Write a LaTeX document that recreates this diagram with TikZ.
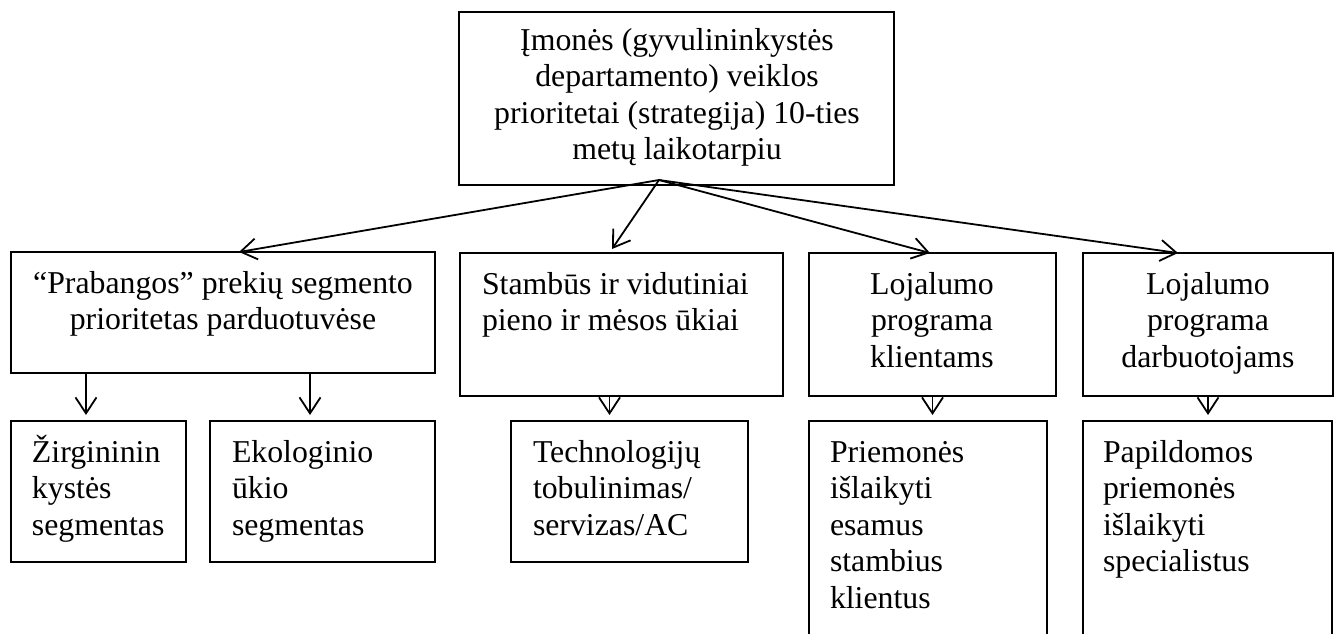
\documentclass[tikz,border=0pt]{standalone}
\usepackage{fontspec}
\setmainfont{Liberation Serif}
\usetikzlibrary{arrows.meta,calc}

\begin{document}
\begin{tikzpicture}[x=0.5pt,y=-0.5pt,
  box/.style={draw,line width=0.9pt,rectangle,inner sep=0pt,outer sep=0pt},
  sz/.style 2 args={minimum width=#1*0.5pt,minimum height=#2*0.5pt},
  txt/.style={inner sep=0pt,outer sep=0pt,font=\fontsize{15.9}{18.3}\selectfont},
  txtl/.style={txt,align=left,anchor=north west},
  txtc/.style={txt,align=center,anchor=north},
  link/.style={line width=0.9pt,-{Straight Barb[length=8pt,width=10.5pt]}}]
\useasboundingbox (0,0) rectangle (1339,633);
\clip (0,0) rectangle (1339,633);
\newcommand{\fl}{\rule{0pt}{15pt}}

% boxes: centre, width, height in pixels (1px = 0.5pt)
\node[box,sz={435}{173}] (top) at (676.5,98.5) {};
\node[box,sz={424}{121}] (lux) at (223,312.5) {};
\node[box,sz={323}{143}] (farm) at (621.5,324.5) {};
\node[box,sz={247}{143}] (cli) at (932.5,324.5) {};
\node[box,sz={250}{143}] (emp) at (1208,324.5) {};
\node[box,sz={175}{141}] (horse) at (98.5,491.5) {};
\node[box,sz={225}{141}] (eco) at (322.5,491.5) {};
\node[box,sz={237}{141}] (tech) at (629.5,491.5) {};
\node[box,sz={238}{279}] (keep) at (928,560.5) {};
\node[box,sz={249}{279}] (staff) at (1207.5,560.5) {};

% texts
\node[txtc] (ttop) at ($(top.north)+(0.5,8)$) {\fl Įmonės (gyvulininkystės\\departamento) veiklos\\prioritetai (strategija) 10-ties\\metų laikotarpiu};
\node[txtc] (tlux) at ($(lux.north)+(0,11)$) {\fl “Prabangos” prekių segmento\\prioritetas parduotuvėse};
\node[txtl] (tfarm) at ($(farm.north west)+(22,11)$) {\fl Stambūs ir vidutiniai\\pieno ir mėsos ūkiai};
\node[txtc] (tcli) at ($(cli.north)+(-0.5,11)$) {\fl Lojalumo\\programa\\klientams};
\node[txtc] (temp) at ($(emp.north)+(0,11)$) {\fl Lojalumo\\programa\\darbuotojams};
\node[txtl] (thorse) at ($(horse.north west)+(21,11)$) {\fl Žirgininin\\kystės\\segmentas};
\node[txtl] (teco) at ($(eco.north west)+(22,11)$) {\fl Ekologinio\\ūkio\\segmentas};
\node[txtl] (ttech) at ($(tech.north west)+(22,11)$) {\fl Technologijų\\tobulinimas/\\servizas/AC};
\node[txtl] (tkeep) at ($(keep.north west)+(21,11)$) {\fl Priemonės\\išlaikyti\\esamus\\stambius\\klientus};
\node[txtl] (tstaff) at ($(staff.north west)+(20,11)$) {\fl Papildomos\\priemonės\\išlaikyti\\specialistus};

% fan of arrows from the top box
\coordinate (hub) at ($(top.south)+(-17.5,-5)$);
\draw[link] (hub) -- ($(lux.north)+(16,0)$);
\draw[link] (hub) -- ($(farm.north)+(-9.5,-4)$);
\draw[link] (hub) -- ($(cli.north)+(-2.5,0)$);
\draw[link] (hub) -- ($(emp.north)+(-30,0)$);

% arrows down to the third row
\draw[link] ($(lux.south)+(-137,0)$) -- ($(horse.north)+(-12.5,-6)$);
\draw[link] ($(lux.south)+(87,0)$) -- ($(eco.north)+(-12.5,-6)$);
\draw[link] ($(farm.south)+(-12,0)$) -- ($(tech.north)+(-20,-6)$);
\draw[link] (cli.south) -- ($(keep.north)+(4.5,-6)$);
\draw[link] (emp.south) -- ($(staff.north)+(0.5,-6)$);
\end{tikzpicture}
\end{document}
